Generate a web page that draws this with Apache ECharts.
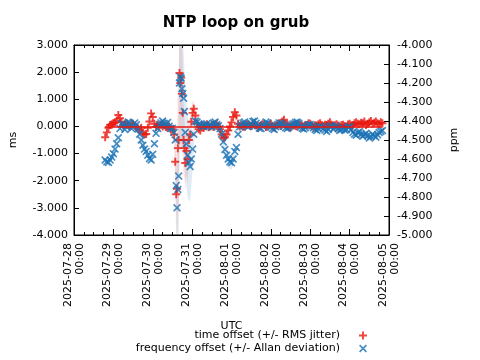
<!DOCTYPE html>
<html><head><meta charset="utf-8">
<script src="https://cdn.jsdelivr.net/npm/echarts@6/dist/echarts.min.js"></script>
<style>html,body{margin:0;padding:0;background:#fff}#c{width:480px;height:360px}</style>
</head><body><div id="c"></div>
<script>
// ---- data ----
const titleText = 'NTP loop on grub';
const startTime = '2025-07-28T00:00:00Z';
const endTime = '2025-08-05T00:00:00Z';
const seriesNames = ['time offset (+/- RMS jitter)', 'frequency offset (+/- Allan deviation)'];
const msAxisRange = [-4, 3, 1];        // min, max, step (ms)
const ppmAxisRange = [-5, -4, 0.1];    // min, max, step (ppm)

// sample times, hours after 2025-07-28 00:00 UTC
const sampleHours = [
  19,20,21,22,23,24,25,26,27,28,29,30,31,32,33,34,35,36,37,38,39,40,41,42,43,44,45,46,47,48,49,50,51,52,53,54,55,56,57,58,59,
  60,61,61.7,62.3,62.8,63.3,63.8,64.3,64.8,65.3,65.8,66.3,66.8,67.3,67.8,68.5,69.2,70,70.8,71.5,72.3,73,74,75,76,77,
  78,79,80,81,82,83,84,85,86,87,88,89,90,91,92,93,94,95,96,97,98,99,100,101,
  102,103,104,105,106,107,108,109,110,111,112,113,114,115,116,117,118,119,120,121,122,123,124,125,126,127,128,129,130,131,
  132,133,134,135,136,137,138,139,140,141,142,143,144,145,146,147,148,149,150,151,152,153,154,155,156,157,158,159,160,161,
  162,163,164,165,166,167,168,169,170,171,172,173,174,175,176,177,178,179,180,181,182,183,184,185,186,187,188
];
const timeOffsetMs = [
  -0.40,-0.22,-0.05,0.05,0.08,0.12,0.15,0.22,0.42,0.30,0.15,0.05,0.08,0.12,0.05,0.00,0.10,0.08,0.03,-0.02,-0.08,-0.12,-0.05,-0.25,-0.30,-0.28,-0.05,0.18,0.48,0.35,0.10,-0.02,0.05,0.02,0.06,0.00,0.04,-0.02,-0.05,0.00,-0.10,
  -0.10,-0.30,-1.30,-2.50,-2.30,-0.80,-0.50,1.97,1.60,1.80,1.20,0.50,-0.50,-0.80,-1.35,-0.90,-1.20,-0.50,-0.30,0.17,0.50,0.65,0.40,0.10,-0.10,-0.15,
  0.05,-0.05,0.02,0.08,-0.03,0.00,0.05,-0.02,0.06,0.10,0.00,-0.10,-0.30,-0.43,-0.40,-0.30,-0.15,0.00,0.15,0.35,0.52,0.40,0.10,0.00,
  0.05,0.00,-0.02,0.06,0.08,0.03,0.02,0.10,0.12,0.04,-0.05,0.02,0.03,0.08,0.06,-0.02,0.00,0.05,0.10,0.02,-0.04,0.03,0.05,0.12,0.02,0.18,0.25,0.10,0.08,0.00,
  -0.03,0.04,0.05,0.02,0.00,0.08,0.06,0.03,-0.02,0.05,0.04,0.12,0.10,0.02,-0.05,0.04,0.03,0.08,0.12,0.05,0.00,0.06,0.05,0.10,0.15,0.06,0.02,0.04,0.08,0.03,
  -0.03,0.05,0.06,0.02,0.00,0.07,0.10,0.04,0.05,0.12,0.15,0.10,0.08,0.14,0.12,0.18,0.05,0.10,0.15,0.20,0.10,0.14,0.18,0.12,0.08,0.15,0.12
];
const rmsJitterMs = [
  0.10,0.08,0.06,0.05,0.05,0.05,0.05,0.06,0.08,0.06,0.05,0.04,0.04,0.04,0.04,0.04,0.04,0.04,0.04,0.05,0.06,0.08,0.10,0.12,0.12,0.12,0.12,0.12,0.10,0.08,0.06,0.05,0.04,0.04,0.04,0.04,0.04,0.04,0.04,0.05,0.08,
  0.15,0.40,1.00,1.60,2.00,2.40,2.60,2.70,2.60,2.40,2.00,1.60,1.30,1.10,1.00,0.90,0.90,0.80,0.60,0.50,0.40,0.30,0.20,0.12,0.08,0.06,
  0.05,0.04,0.04,0.04,0.04,0.04,0.04,0.04,0.04,0.04,0.05,0.06,0.10,0.12,0.15,0.15,0.15,0.15,0.15,0.15,0.12,0.10,0.08,0.06,
  0.04,0.04,0.04,0.04,0.04,0.04,0.04,0.04,0.04,0.04,0.04,0.04,0.04,0.04,0.04,0.04,0.04,0.04,0.04,0.04,0.04,0.04,0.04,0.04,0.04,0.04,0.04,0.04,0.04,0.04,
  0.04,0.04,0.04,0.04,0.04,0.04,0.04,0.04,0.04,0.04,0.04,0.04,0.04,0.04,0.04,0.04,0.04,0.04,0.04,0.04,0.04,0.04,0.04,0.04,0.04,0.04,0.04,0.04,0.04,0.04,
  0.04,0.04,0.04,0.04,0.04,0.04,0.04,0.04,0.04,0.04,0.04,0.04,0.04,0.04,0.04,0.04,0.04,0.04,0.04,0.04,0.04,0.04,0.04,0.04,0.04,0.04,0.04
];
const freqOffsetPpm = [
  -4.605,-4.615,-4.618,-4.605,-4.590,-4.572,-4.548,-4.520,-4.488,-4.440,-4.415,-4.420,-4.445,-4.430,-4.405,-4.410,-4.440,-4.430,-4.410,-4.420,-4.442,-4.470,-4.500,-4.528,-4.548,-4.560,-4.580,-4.598,-4.605,-4.575,-4.520,-4.465,-4.440,-4.420,-4.410,-4.400,-4.412,-4.420,-4.408,-4.428,-4.440,
  -4.440,-4.460,-4.500,-4.740,-4.857,-4.760,-4.690,-4.200,-4.168,-4.175,-4.230,-4.255,-4.280,-4.350,-4.460,-4.520,-4.580,-4.620,-4.640,-4.600,-4.548,-4.470,-4.400,-4.405,-4.415,-4.420,
  -4.425,-4.430,-4.420,-4.415,-4.428,-4.420,-4.432,-4.410,-4.405,-4.418,-4.425,-4.440,-4.470,-4.510,-4.550,-4.580,-4.600,-4.615,-4.620,-4.600,-4.560,-4.540,-4.470,-4.430,
  -4.420,-4.410,-4.405,-4.418,-4.430,-4.425,-4.415,-4.402,-4.400,-4.412,-4.425,-4.438,-4.440,-4.428,-4.418,-4.405,-4.410,-4.422,-4.432,-4.440,-4.445,-4.430,-4.420,-4.410,-4.412,-4.420,-4.428,-4.436,-4.440,-4.432,
  -4.425,-4.418,-4.415,-4.408,-4.405,-4.412,-4.430,-4.438,-4.442,-4.435,-4.425,-4.420,-4.418,-4.425,-4.435,-4.445,-4.450,-4.440,-4.428,-4.432,-4.440,-4.448,-4.455,-4.445,-4.430,-4.425,-4.442,-4.435,-4.425,-4.438,
  -4.450,-4.445,-4.438,-4.448,-4.445,-4.432,-4.430,-4.445,-4.460,-4.470,-4.475,-4.462,-4.455,-4.470,-4.480,-4.472,-4.465,-4.478,-4.490,-4.482,-4.470,-4.478,-4.485,-4.472,-4.460,-4.455,-4.450
];
const allanDevPpm = [
  0.008,0.008,0.006,0.005,0.005,0.005,0.005,0.006,0.008,0.006,0.005,0.004,0.004,0.004,0.004,0.004,0.004,0.004,0.004,0.005,0.006,0.010,0.015,0.020,0.020,0.020,0.020,0.020,0.015,0.010,0.006,0.005,0.004,0.004,0.004,0.004,0.004,0.004,0.004,0.005,0.008,
  0.01,0.02,0.05,0.10,0.18,0.25,0.30,0.35,0.35,0.35,0.32,0.28,0.25,0.22,0.22,0.22,0.22,0.20,0.18,0.14,0.10,0.07,0.04,0.02,0.01,0.01,
  0.005,0.004,0.004,0.004,0.004,0.004,0.004,0.004,0.004,0.005,0.008,0.015,0.025,0.035,0.040,0.040,0.040,0.040,0.035,0.030,0.020,0.012,0.008,0.006,
  0.004,0.004,0.004,0.004,0.004,0.004,0.004,0.004,0.004,0.004,0.004,0.004,0.004,0.004,0.004,0.004,0.004,0.004,0.004,0.004,0.004,0.004,0.004,0.004,0.004,0.004,0.004,0.004,0.004,0.004,
  0.004,0.004,0.004,0.004,0.004,0.004,0.004,0.004,0.004,0.004,0.004,0.004,0.004,0.004,0.004,0.004,0.004,0.004,0.004,0.004,0.004,0.004,0.004,0.004,0.004,0.004,0.004,0.004,0.004,0.004,
  0.004,0.004,0.004,0.004,0.004,0.004,0.004,0.004,0.004,0.004,0.004,0.004,0.004,0.004,0.004,0.004,0.004,0.004,0.004,0.004,0.004,0.004,0.004,0.004,0.004,0.004,0.004
];

// ---- build ----
const HOUR = 3600000, DAY = 86400000;
const t0 = Date.parse(startTime), t1 = Date.parse(endTime);
const times = sampleHours.map(h => t0 + h * HOUR);
const pts = (vals) => vals.map((v, i) => [times[i], v]);
const FONT = 'DejaVu Sans';
const RED = '#e8170f', BLUE = '#1a72b4';
const PLUS = 'path://M3.8,0H6.2V3.8H10V6.2H6.2V10H3.8V6.2H0V3.8H3.8Z';
const CROSS = 'path://M1.5,0L5,3.5L8.5,0L10,1.5L6.5,5L10,8.5L8.5,10L5,6.5L1.5,10L0,8.5L3.5,5L0,1.5Z';
const pad = n => String(n).padStart(2, '0');
const fmtDate = v => { const d = new Date(v); return d.getUTCFullYear() + '-' + pad(d.getUTCMonth() + 1) + '-' + pad(d.getUTCDate()) + '\n' + pad(d.getUTCHours()) + ':' + pad(d.getUTCMinutes()); };

// error band drawn as one polygon through the axis scales
function band(vals, errs, yIdx, color) {
  const data = vals.map((v, i) => [times[i], v - errs[i], v + errs[i]]);
  return {
    type: 'custom', yAxisIndex: yIdx, silent: true, z: 1, data: data,
    encode: { x: 0, y: [1, 2] },
    renderItem: function (params, api) {
      if (params.dataIndex !== 0) return null;
      const up = data.map(d => api.coord([d[0], d[2]]));
      const lo = data.map(d => api.coord([d[0], d[1]])).reverse();
      const cs = params.coordSys;
      return {
        type: 'polygon', shape: { points: up.concat(lo) }, style: { fill: color, stroke: null },
        clipPath: { type: 'rect', shape: { x: cs.x, y: cs.y, width: cs.width, height: cs.height } }
      };
    }
  };
}

const axisText = { color: '#000', fontFamily: FONT, fontSize: 11 };
const xTicks = { show: true, inside: true, length: 6, lineStyle: { color: '#000' } };
const xMinor = { show: true, splitNumber: 4, length: 3, lineStyle: { color: '#000' } };

const option = {
  animation: false,
  backgroundColor: '#fff',
  title: { text: titleText, left: 231, textAlign: 'center', top: 11,
    textStyle: { fontFamily: FONT, fontSize: 15, fontWeight: 'bold', color: '#000' } },
  grid: { left: 72, right: 91, top: 45, bottom: 125, show: true, borderColor: '#000', borderWidth: 1, backgroundColor: 'transparent' },
  legend: [
    { data: [{ name: seriesNames[0], icon: PLUS }], right: 113, top: 330, orient: 'vertical', align: 'right', padding: 0,
      itemWidth: 8, itemHeight: 8, textStyle: Object.assign({ padding: [0, 14, 0, 0] }, axisText), selectedMode: false },
    { data: [{ name: seriesNames[1], icon: CROSS }], right: 113, top: 343, orient: 'vertical', align: 'right', padding: 0,
      itemWidth: 8, itemHeight: 8, textStyle: Object.assign({ padding: [0, 14, 0, 0] }, axisText), selectedMode: false }
  ],
  xAxis: [
    { type: 'value', min: t0, max: t1, interval: DAY, name: 'UTC', nameLocation: 'middle', nameGap: 86,
      nameTextStyle: axisText, axisLine: { show: true, onZero: false, lineStyle: { color: '#000' } },
      axisTick: xTicks, minorTick: xMinor, splitLine: { show: false },
      axisLabel: Object.assign({ rotate: 90, margin: 8, formatter: fmtDate, lineHeight: 12, showMinLabel: true, showMaxLabel: true }, axisText) },
    { type: 'value', min: t0, max: t1, interval: DAY, position: 'top',
      axisLine: { show: true, onZero: false, lineStyle: { color: '#000' } }, axisTick: xTicks, minorTick: xMinor,
      splitLine: { show: false }, axisLabel: { show: false } }
  ],
  yAxis: [
    { type: 'value', min: msAxisRange[0], max: msAxisRange[1], interval: msAxisRange[2], name: 'ms', nameLocation: 'middle', nameGap: 55, nameRotate: 90,
      nameTextStyle: axisText, axisLine: { show: true, onZero: false, lineStyle: { color: '#000' } },
      axisTick: { show: true, inside: true, length: 5, lineStyle: { color: '#000' } }, splitLine: { show: false },
      axisLabel: Object.assign({ margin: 6, formatter: v => v.toFixed(3) }, axisText) },
    { type: 'value', min: ppmAxisRange[0], max: ppmAxisRange[1], interval: ppmAxisRange[2], position: 'right', name: 'ppm', nameLocation: 'middle', nameGap: 60, nameRotate: 90,
      nameTextStyle: axisText, axisLine: { show: true, onZero: false, lineStyle: { color: '#000' } },
      axisTick: { show: true, inside: true, length: 5, lineStyle: { color: '#000' } }, splitLine: { show: false },
      axisLabel: Object.assign({ margin: 8, formatter: v => v.toFixed(3) }, axisText) }
  ],
  series: [
    band(timeOffsetMs, rmsJitterMs, 0, 'rgba(240,40,30,0.14)'),
    band(freqOffsetPpm, allanDevPpm, 1, 'rgba(30,120,190,0.14)'),
    { name: seriesNames[0], type: 'scatter', yAxisIndex: 0, symbol: PLUS, symbolSize: 8, z: 2,
      itemStyle: { color: RED }, data: pts(timeOffsetMs),
      markLine: { silent: true, z: 5, symbol: 'none', label: { show: false }, lineStyle: { color: RED, width: 1.5, type: 'solid' },
        data: [[{ coord: [times[0], 0] }, { coord: [times[times.length - 1], 0] }]] } },
    { name: seriesNames[1], type: 'scatter', yAxisIndex: 1, symbol: CROSS, symbolSize: 8, z: 3,
      itemStyle: { color: BLUE }, data: pts(freqOffsetPpm) }
  ]
};
echarts.init(document.getElementById('c'), null, { renderer: 'canvas' }).setOption(option);
</script></body></html>
